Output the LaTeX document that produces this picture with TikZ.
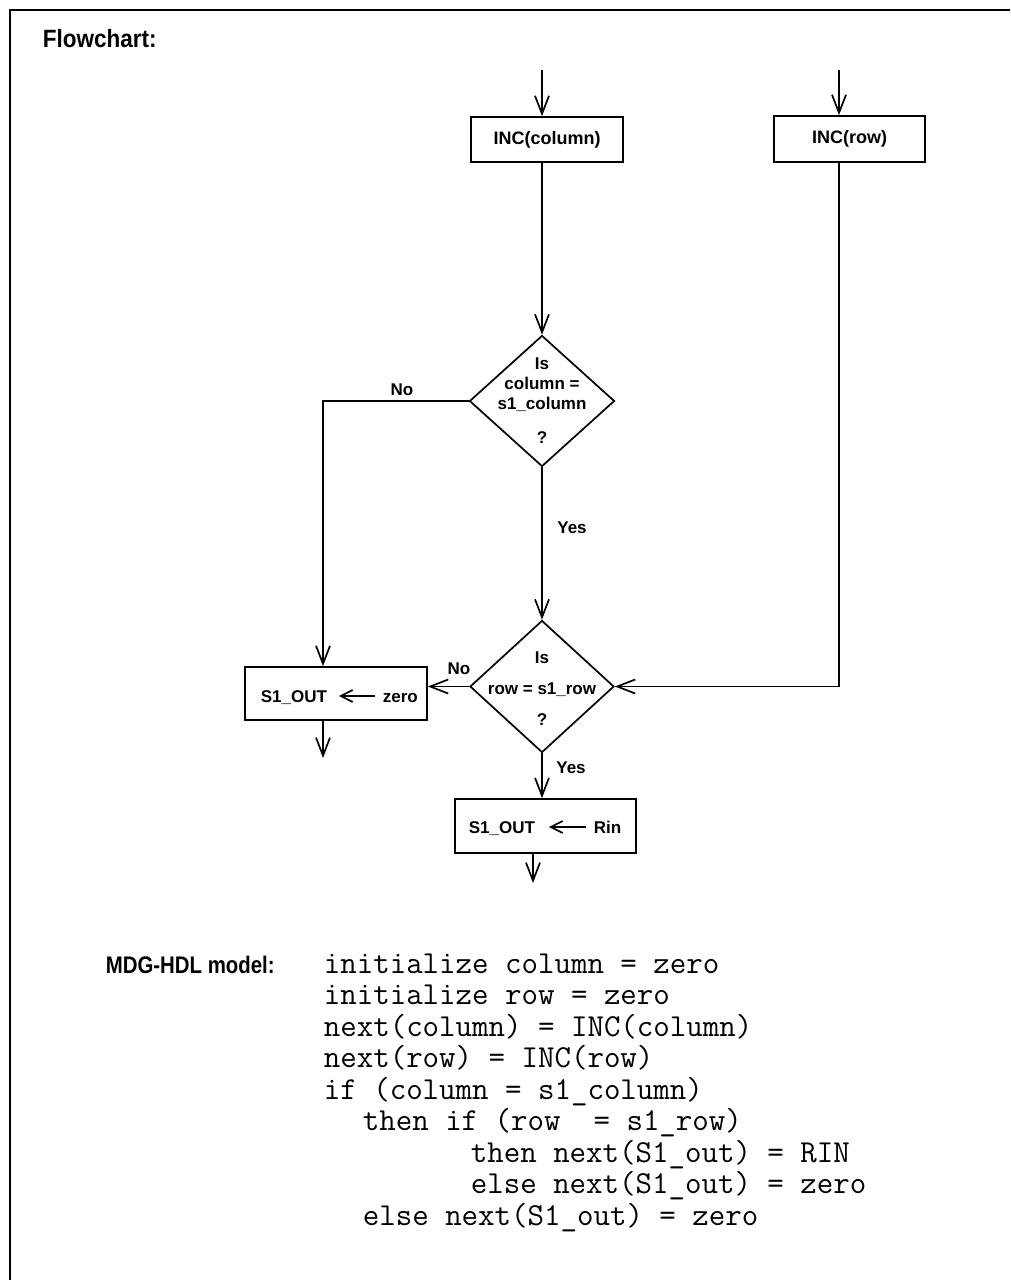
\documentclass[tikz,border=0pt]{standalone}
\usepackage{fontspec}
\setmainfont{Liberation Sans}
\newfontfamily\headfont{Liberation Sans}[FakeStretch=0.9]
\newfontfamily\modelfont{Liberation Sans}[FakeStretch=0.85]
\usetikzlibrary{arrows.meta,shapes.geometric}
\begin{document}
\begin{tikzpicture}[x=1pt,y=-1pt,line width=1.7pt,
  arr/.style={-{Straight Barb[length=18pt,width=14pt,line width=1.7pt]}},
  iarr/.style={-{Straight Barb[length=12pt,width=12pt,line width=1.7pt]}},
  box/.style={draw,line width=1.7pt,inner sep=0pt,font=\fontsize{18}{20}\selectfont\bfseries},
  dia/.style={draw,diamond,line width=1.7pt,inner sep=0pt},
  lbl/.style={inner sep=0pt,font=\fontsize{17}{20}\selectfont\bfseries},
  title/.style={inner sep=0pt,anchor=base west,font=\headfont\bfseries\fontsize{25}{28}\selectfont},
  code/.style={inner sep=0pt,anchor=base west,font=\ttfamily\fontsize{32}{32}\selectfont}]
\useasboundingbox (0,0) rectangle (1010,1280);
% frame
\coordinate (ftr) at (1010,10);
\coordinate (ftl) at (10,10);
\coordinate (fbl) at (10,1280);
\draw (ftr) -- (ftl) -- (fbl);
% titles
\node[title] (t1) at (42,47) {Flowchart:};
\node[title,font=\modelfont\bfseries\fontsize{24}{28}\selectfont] (t2) at (105,973) {MDG-HDL model:};
% boxes
\node[box,minimum width=152pt,minimum height=45pt] (incc) at (547,139.5) {INC(column)};
\node[box,minimum width=151pt,minimum height=46pt] (incr) at (849.5,139) {INC(row)};
\node[dia,minimum width=145pt,minimum height=131pt] (d1) at (542,401) {};
\node[lbl,align=center] (d1t) at (542,401) {Is\\column =\\s1\_column\\[14pt]?};
\node[dia,minimum width=144pt,minimum height=132pt] (d2) at (542,686.5) {};
\node[lbl,align=center] (d2t) at (542,689) {Is\\[11pt]row = s1\_row\\[11pt]?};
\node[box,minimum width=182pt,minimum height=53pt] (zb) at (336,693.5) {};
\node[lbl,anchor=base west] (zs) at (260,702) {S1\_OUT};
\node[lbl,anchor=base west] (zz) at (382,702) {zero};
\draw[iarr] ([shift={(-7pt,6pt)}]zz.base west) -- ([shift={(11pt,6pt)}]zs.base east);
\node[box,minimum width=181pt,minimum height=54pt] (rb) at (545.5,826) {};
\node[lbl,anchor=base west] (rs) at (468,833) {S1\_OUT};
\node[lbl,anchor=base west] (rr) at (593,833) {Rin};
\draw[iarr] ([shift={(-7pt,6pt)}]rr.base west) -- ([shift={(13pt,6pt)}]rs.base east);
% labels
\node[lbl] (no1) at (402,390) {No};
\node[lbl] (yes1) at (572,528) {Yes};
\node[lbl] (no2) at (459,669) {No};
\node[lbl] (yes2) at (571,768) {Yes};
% connectors
\coordinate (in1) at (542,70);
\coordinate (in2) at (839,70);
\coordinate (nox) at (323,401);
\coordinate (out1) at (323,758);
\coordinate (out2) at (533,883);
\draw[arr] (in1) -- (in1 |- incc.north);
\draw[arr] (in1 |- incc.south) -- (d1.north);
\draw[arr] (in2) -- (in2 |- incr.north);
\draw[arr] (in2 |- incr.south) -- (in2 |- d2.east) -- (d2.east);
\draw[arr] (d1.west) -- (nox) -- (nox |- zb.north);
\draw[arr] (d1.south) -- (d2.north);
\draw[arr] (d2.west) -- (d2.west -| zb.east);
\draw[arr] (d2.south) -- (d2.south |- rb.north);
\draw[arr] (out1 |- zb.south) -- (out1);
\draw[arr] (out2 |- rb.south) -- (out2);
% code
\node[code] (c1) at (323,973) {initialize column = zero};
\node[code] (c2) at (323,1004.5) {initialize row = zero};
\node[code] (c3) at (323,1036) {next(column) = INC(column)};
\node[code] (c4) at (323,1067.5) {next(row) = INC(row)};
\node[code] (c5) at (323,1099) {if (column = s1\_column)};
\node[code] (c6) at (362,1130.5) {then if (row\ \ = s1\_row)};
\node[code] (c7) at (470,1162) {then next(S1\_out) = RIN};
\node[code] (c8) at (470,1193.5) {else next(S1\_out) = zero};
\node[code] (c9) at (362,1225) {else next(S1\_out) = zero};
\end{tikzpicture}
\end{document}
